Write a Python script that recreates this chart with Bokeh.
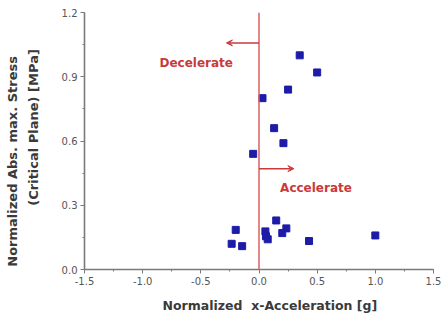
from bokeh.plotting import figure
from bokeh.models import (ColumnDataSource, Range1d, Span, Arrow, VeeHead, Label,
                          SingleIntervalTicker, FixedTicker, LinearAxis)
from bokeh.embed import file_html
from bokeh.resources import INLINE

# data (normalized x-acceleration [g], normalized abs. max. stress [MPa])
accel = [0.35, 0.50, 0.25, 0.03, 0.13, 0.21, -0.05,
         -0.20, -0.235, -0.145, 0.055, 0.06, 0.075, 0.148, 0.20, 0.235, 0.43, 1.00]
stress = [1.00, 0.92, 0.84, 0.80, 0.66, 0.59, 0.54,
          0.185, 0.12, 0.109, 0.178, 0.155, 0.141, 0.229, 0.17, 0.192, 0.133, 0.159]

x_ticks = [-1.5, -1.0, -0.5, 0.0, 0.5, 1.0, 1.5]
y_ticks = [0.0, 0.3, 0.6, 0.9, 1.2]

# annotation placements
decel_arrow = dict(x0=0.0, x1=-0.28, y=1.058)
accel_arrow = dict(x0=0.0, x1=0.30, y=0.471)
decel_text = dict(x=-0.54, y=0.965, text="Decelerate")
accel_text = dict(x=0.49, y=0.382, text="Accelerate")

NB = "\u00a0"
ylabel_outer = "Normalized Abs. max. Stress" + NB * 9
ylabel_inner = NB * 6 + "(Critical Plane) [MPa]"
xlabel = NB * 5 + "Normalized" + NB * 2 + "x-Acceleration [g]"

p = figure(width=441, height=315, output_backend="svg", toolbar_location=None,
           x_range=Range1d(x_ticks[0], x_ticks[-1]), y_range=Range1d(y_ticks[0], y_ticks[-1]),
           min_border_left=84, min_border_right=8, min_border_top=12, min_border_bottom=44,
           background_fill_color="white", border_fill_color="white")
p.outline_line_color = None
p.xgrid.visible = False
p.ygrid.visible = False

axis_col = "#7a7a7a"
tick_col = "#555555"
lab_col = "#3a3a3a"
for ax in (p.xaxis[0], p.yaxis[0]):
    ax.axis_line_color = axis_col
    ax.axis_line_width = 1.6
    ax.major_tick_line_color = axis_col
    ax.minor_tick_line_color = axis_col
    ax.major_tick_in = 0
    ax.major_tick_out = 4
    ax.minor_tick_in = 0
    ax.minor_tick_out = 2
    ax.major_label_text_font = "DejaVu Sans"
    ax.major_label_text_font_size = "10px"
    ax.major_label_text_color = tick_col
    ax.major_label_standoff = 3
    ax.axis_label_text_font = "DejaVu Sans"
    ax.axis_label_text_font_style = "bold"
    ax.axis_label_text_color = lab_col

p.xaxis[0].ticker = SingleIntervalTicker(interval=0.5, num_minor_ticks=2)
p.yaxis[0].ticker = SingleIntervalTicker(interval=0.3, num_minor_ticks=2)
p.xaxis[0].major_label_overrides = {t: ("%.1f" % t) for t in x_ticks}
p.yaxis[0].major_label_overrides = {t: ("%.1f" % t) for t in y_ticks}

p.xaxis[0].axis_label = xlabel
p.xaxis[0].axis_label_text_font_size = "12.5px"
p.xaxis[0].axis_label_standoff = 10

p.yaxis[0].axis_label = ylabel_inner
p.yaxis[0].axis_label_text_font_size = "13px"
p.yaxis[0].axis_label_standoff = 18

outer = LinearAxis(ticker=FixedTicker(ticks=[]), axis_line_color=None,
                   major_tick_line_color=None, minor_tick_line_color=None,
                   axis_label=ylabel_outer, axis_label_text_font="DejaVu Sans",
                   axis_label_text_font_style="bold", axis_label_text_font_size="13px",
                   axis_label_text_color=lab_col, axis_label_standoff=3)
p.add_layout(outer, "left")

# vertical reference line at zero acceleration
p.add_layout(Span(location=0, dimension="height", line_color="#d86060", line_width=1.5))

red = "#c83a3a"
for a in (decel_arrow, accel_arrow):
    p.add_layout(Arrow(end=VeeHead(size=6, fill_color=red, line_color=red),
                       x_start=a["x0"], y_start=a["y"], x_end=a["x1"], y_end=a["y"],
                       line_color=red, line_width=1.5))
for t in (decel_text, accel_text):
    p.add_layout(Label(x=t["x"], y=t["y"], text=t["text"], text_align="center",
                       text_baseline="middle", text_font="DejaVu Sans",
                       text_font_style="bold", text_font_size="12px", text_color=red))

src = ColumnDataSource(dict(x=accel, y=stress))
p.scatter("x", "y", source=src, marker="square", size=7, fill_color="#1c1ca8",
          line_color="#1c1ca8")

open("out.html", "w").write(file_html(p, INLINE))
